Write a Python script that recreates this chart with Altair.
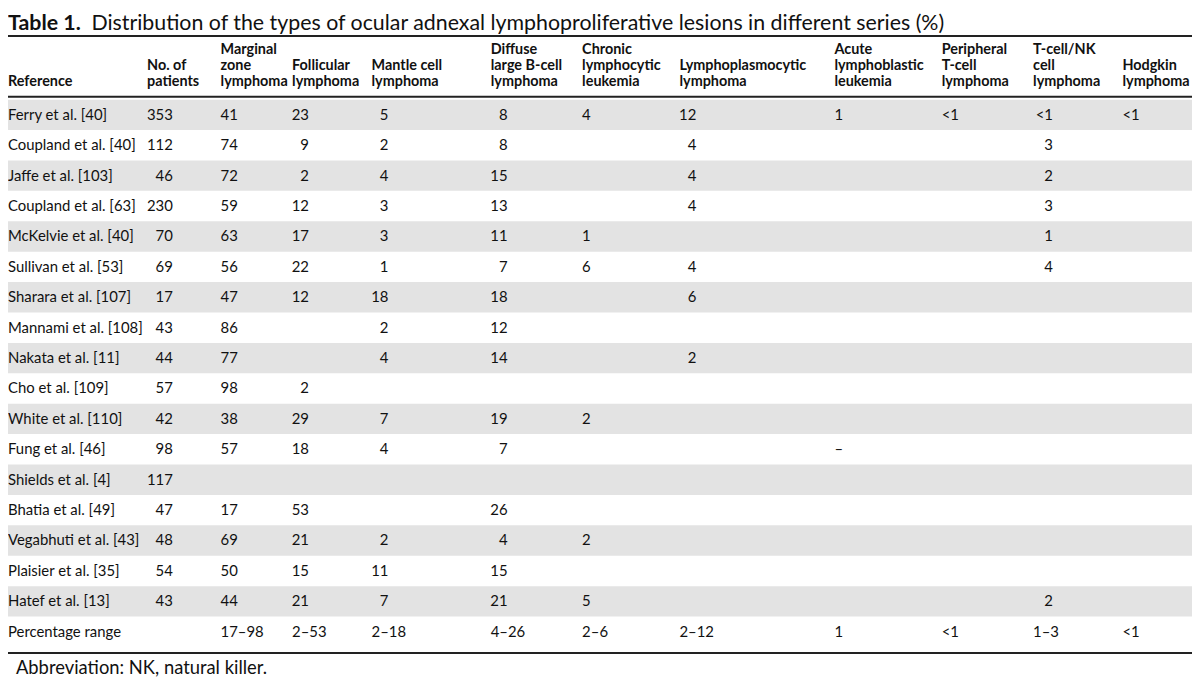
import altair as alt
import pandas as pd

FONT = "Lato"
INK = "#111111"

title_bold = "Table 1."
title_text = "Distribution of the types of ocular adnexal lymphoproliferative lesions in different series (%)"
footnote = "Abbreviation: NK, natural killer."

columns = ["ref", "n", "mz", "fl", "mcl", "dlbcl", "cll", "lpl", "all", "ptcl", "tnk", "hl"]
headers = [
    ["Reference"],
    ["No. of", "patients"],
    ["Marginal", "zone", "lymphoma"],
    ["Follicular", "lymphoma"],
    ["Mantle cell", "lymphoma"],
    ["Diffuse", "large B-cell", "lymphoma"],
    ["Chronic", "lymphocytic", "leukemia"],
    ["Lymphoplasmocytic", "lymphoma"],
    ["Acute", "lymphoblastic", "leukemia"],
    ["Peripheral", "T-cell", "lymphoma"],
    ["T-cell/NK", "cell", "lymphoma"],
    ["Hodgkin", "lymphoma"],
]

references = ["Ferry et al. [40]", "Coupland et al. [40]", "Jaffe et al. [103]", "Coupland et al. [63]",
              "McKelvie et al. [40]", "Sullivan et al. [53]", "Sharara et al. [107]", "Mannami et al. [108]",
              "Nakata et al. [11]", "Cho et al. [109]", "White et al. [110]", "Fung et al. [46]",
              "Shields et al. [4]", "Bhatia et al. [49]", "Vegabhuti et al. [43]", "Plaisier et al. [35]",
              "Hatef et al. [13]", "Percentage range"]
patients = ["353", "112", "46", "230", "70", "69", "17", "43", "44", "57", "42", "98", "117", "47", "48", "54", "43", ""]
marginal = ["41", "74", "72", "59", "63", "56", "47", "86", "77", "98", "38", "57", "", "17", "69", "50", "44", "17–98"]
follicular = ["23", "9", "2", "12", "17", "22", "12", "", "", "2", "29", "18", "", "53", "21", "15", "21", "2–53"]
mantle = ["5", "2", "4", "3", "3", "1", "18", "2", "4", "", "7", "4", "", "", "2", "11", "7", "2–18"]
diffuse = ["8", "8", "15", "13", "11", "7", "18", "12", "14", "", "19", "7", "", "26", "4", "15", "21", "4–26"]
chronic = ["4", "", "", "", "1", "6", "", "", "", "", "2", "", "", "", "2", "", "5", "2–6"]
lymphoplasmacytic = ["12", "4", "4", "4", "", "4", "6", "", "2", "", "", "", "", "", "", "", "", "2–12"]
acute = ["1", "", "", "", "", "", "", "", "", "", "", "–", "", "", "", "", "", "1"]
peripheral = ["<1", "", "", "", "", "", "", "", "", "", "", "", "", "", "", "", "", "<1"]
tcell_nk = ["<1", "3", "2", "3", "1", "4", "", "", "", "", "", "", "", "", "", "", "2", "1–3"]
hodgkin = ["<1", "", "", "", "", "", "", "", "", "", "", "", "", "", "", "", "", "<1"]

value_lists = [references, patients, marginal, follicular, mantle, diffuse, chronic,
               lymphoplasmacytic, acute, peripheral, tcell_nk, hodgkin]

# layout (plot coordinates; the page adds an 8px margin) -------------------
W, H = 1192, 672
BODY = 15
col_x = [0, 140, 214, 286, 366, 486, 578, 676, 832, 940, 1032, 1122]
col_align = {"ref": "left", "n": "r3", "mz": "left", "fl": "r2", "mcl": "r2", "dlbcl": "r2",
             "cll": "left", "lpl": "r2", "all": "left", "ptcl": "left", "tnk": "rlt", "hl": "left"}
dx_for = {"r3": 26, "r2": 17, "rlt": 20}

recs = []
for ci, (col, vals) in enumerate(zip(columns, value_lists)):
    for ri, v in enumerate(vals):
        if not v:
            continue
        grp = col_align[col] if ri < len(references) - 1 else "left"
        recs.append({"row": references[ri], "ci": ci, "text": v, "grp": grp})
cells = pd.DataFrame(recs)

hrecs = []
for ci, lines in enumerate(headers):
    n = len(lines)
    for li, t in enumerate(lines):
        hrecs.append({"ci": ci, "hl": n - 1 - li, "text": t})
head = pd.DataFrame(hrecs)

bands = pd.DataFrame({"row": references,
                      "shade": [i % 2 == 0 and i < len(references) - 1 for i in range(len(references))]})

xscale = alt.Scale(domain=list(range(len(columns))), range=col_x, zero=False, nice=False)
yscale = alt.Scale(domain=references, range=[90, 641], paddingInner=0, paddingOuter=0)
X = alt.X("ci:Q", scale=xscale, axis=None)
Y = alt.Y("row:N", scale=yscale, axis=None, bandPosition=0.5)

band_layer = alt.Chart(bands).transform_filter("datum.shade").mark_rect(color="#e3e3e3").encode(
    y=alt.Y("row:N", scale=yscale, axis=None),
    x=alt.value(0), x2=alt.value(W),
)

text_layers = []
for grp in ["left", "r3", "r2", "rlt"]:
    kw = dict(align="left") if grp == "left" else dict(align="right", dx=dx_for[grp])
    text_layers.append(
        alt.Chart(cells).transform_filter(alt.datum.grp == grp).mark_text(
            font=FONT, fontSize=BODY, color=INK, baseline="middle", **kw
        ).encode(x=X, y=Y, text="text:N")
    )

head_layer = alt.Chart(head).mark_text(
    font=FONT, fontSize=14.5, fontWeight="bold", color=INK, align="left", baseline="middle"
).encode(
    x=X,
    y=alt.Y("hl:Q", scale=alt.Scale(domain=[0, 2], range=[72, 40], zero=False, nice=False), axis=None),
    text="text:N",
)


def rule(y):
    return alt.Chart(pd.DataFrame({"k": [0]})).mark_rule(color="#222222", strokeWidth=2).encode(
        x=alt.value(0), x2=alt.value(W), y=alt.value(y)
    )


one = pd.DataFrame({"k": [0]})
title1 = alt.Chart(one).mark_text(font=FONT, fontSize=21.5, fontWeight="bold", color=INK,
                                  align="left", baseline="alphabetic").encode(
    x=alt.value(0), y=alt.value(20), text=alt.value(title_bold))
title2 = alt.Chart(one).mark_text(font=FONT, fontSize=21.5, color=INK,
                                  align="left", baseline="alphabetic").encode(
    x=alt.value(84), y=alt.value(20), text=alt.value(title_text))
foot = alt.Chart(one).mark_text(font=FONT, fontSize=18.5, color=INK,
                                align="left", baseline="middle").encode(
    x=alt.value(8), y=alt.value(662), text=alt.value(footnote))

chart = alt.layer(
    band_layer, *text_layers, head_layer, rule(26), rule(87), rule(647), title1, title2, foot
).resolve_scale(y="independent").properties(
    width=W, height=H, autosize=alt.AutoSizeParams(type="none"), padding=0
).configure_view(stroke=None)

chart.save("out.html", embed_options={"renderer": "svg", "actions": False})
